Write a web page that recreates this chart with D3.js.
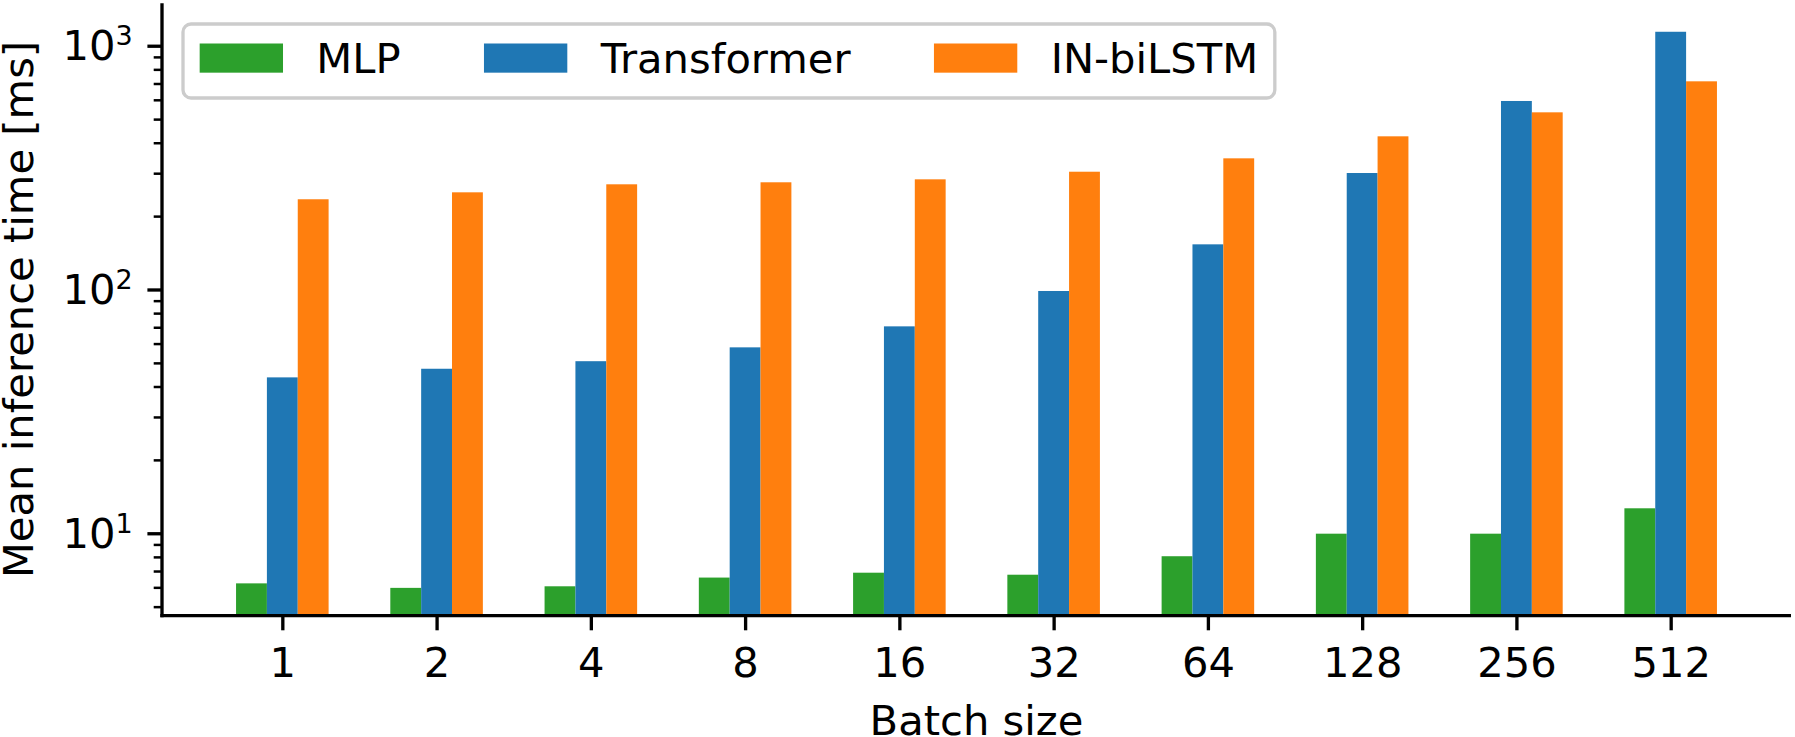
<!DOCTYPE html>
<html>
<head>
<meta charset="utf-8">
<script src="https://cdn.jsdelivr.net/npm/d3@7"></script>
<style>
  body { margin: 0; background: #fff; }
  svg { display: block; font-family: "DejaVu Sans", sans-serif; }
</style>
</head>
<body>
<script>
// batch sizes on the x axis
var batchSizes = ["1", "2", "4", "8", "16", "32", "64", "128", "256", "512"];

// mean inference time [ms]
var mlpTimes = [6.23, 5.97, 6.06, 6.58, 6.89, 6.76, 8.05, 9.96, 9.96, 12.66];
var transformerTimes = [43.6, 47.3, 50.8, 57.9, 70.6, 98.6, 153.2, 300.5, 593.4, 1141];
var lstmTimes = [234.5, 250.4, 270.1, 275.3, 283.1, 304.2, 345.2, 425.0, 533.1, 714.5];

var seriesNames = ["MLP", "Transformer", "IN-biLSTM"];
var seriesColors = ["#2ca02c", "#1f77b4", "#ff7f0e"];
var majorTicks = [10, 100, 1000];
var majorExp = ["1", "2", "3"];

window.onload = drawChart();

function drawChart(){

    var width = 1795,
        height = 737;

    //plot area
    var pLeft = 162, pRight = 1791, pTop = 3.3, pBottom = 615.7;
    var fs = 41.67; // 10pt at 300 dpi
    var lw = 3.33;

    var svg = d3.select("body")
        .append("svg")
        .attr("width", width)
        .attr("height", height);

    var x = d3.scaleLinear()
        .domain([-0.78, 9.78])
        .range([pLeft, pRight]);

    var y = d3.scaleLog()
        .domain([4.59, 1493])
        .range([pBottom, pTop]);

    var series = [mlpTimes, transformerTimes, lstmTimes];
    var offsets = [-0.2, 0, 0.2];

    //bars
    series.forEach(function(vals, s){
        svg.append("g")
            .selectAll("rect")
            .data(vals)
            .enter()
            .append("rect")
            .attr("x", function(d, i){ return x(i + offsets[s] - 0.1); })
            .attr("width", x(0.2) - x(0))
            .attr("y", function(d){ return y(d); })
            .attr("height", function(d){ return pBottom - y(d); })
            .attr("fill", seriesColors[s]);
    });

    //minor y ticks
    var minorTicks = [];
    [1, 10, 100].forEach(function(b){
        for (var k = 2; k <= 9; k++){
            var v = k * b;
            if (v >= y.domain()[0] && v <= y.domain()[1]) minorTicks.push(v);
        }
    });

    var yMinor = svg.append("g")
        .attr("transform", "translate(" + pLeft + ",0)")
        .call(d3.axisLeft(y).tickValues(minorTicks).tickSize(8.3).tickFormat(""));
    yMinor.select(".domain").remove();
    yMinor.selectAll("line").attr("stroke", "#000").attr("stroke-width", 2.5);

    var yMajor = svg.append("g")
        .attr("transform", "translate(" + pLeft + ",0)")
        .call(d3.axisLeft(y).tickValues(majorTicks).tickSize(14.6).tickFormat(""));
    yMajor.select(".domain").remove();
    yMajor.selectAll("line").attr("stroke", "#000").attr("stroke-width", lw);

    //y tick labels as 10^n
    majorTicks.forEach(function(v, i){
        var t = svg.append("text")
            .attr("x", pLeft - 14.6 - 14.6)
            .attr("y", y(v) + 14.5)
            .attr("text-anchor", "end")
            .attr("font-size", fs)
            .attr("fill", "#000");
        t.append("tspan").text("10");
        t.append("tspan")
            .attr("dy", -15)
            .attr("font-size", 27)
            .text(majorExp[i]);
    });

    //x ticks
    var xAxis = svg.append("g")
        .attr("transform", "translate(0," + pBottom + ")")
        .call(d3.axisBottom(x)
            .tickValues(d3.range(batchSizes.length))
            .tickSize(14.6)
            .tickPadding(14.6)
            .tickFormat(function(i){ return batchSizes[i]; }));
    xAxis.select(".domain").remove();
    xAxis.selectAll("line").attr("stroke", "#000").attr("stroke-width", lw);
    xAxis.selectAll("text")
        .attr("font-size", fs)
        .attr("font-family", "DejaVu Sans")
        .attr("fill", "#000")
        .attr("dy", null)
        .attr("y", 61);

    //spines
    svg.append("line")
        .attr("x1", pLeft).attr("x2", pLeft)
        .attr("y1", pTop).attr("y2", pBottom + lw / 2)
        .attr("stroke", "#000").attr("stroke-width", lw);
    svg.append("line")
        .attr("x1", pLeft - lw / 2).attr("x2", pRight)
        .attr("y1", pBottom).attr("y2", pBottom)
        .attr("stroke", "#000").attr("stroke-width", lw);

    //axis labels
    svg.append("text")
        .attr("x", (pLeft + pRight) / 2)
        .attr("y", 735)
        .attr("text-anchor", "middle")
        .attr("font-size", fs)
        .text("Batch size");

    svg.append("text")
        .attr("transform", "translate(33," + ((pTop + pBottom) / 2) + ") rotate(-90)")
        .attr("text-anchor", "middle")
        .attr("font-size", fs)
        .text("Mean inference time [ms]");

    //legend
    var legend = svg.append("g");
    var box = legend.append("rect")
        .attr("x", 183)
        .attr("y", 24)
        .attr("height", 74)
        .attr("rx", 8)
        .attr("fill", "#fff")
        .attr("fill-opacity", 0.8)
        .attr("stroke", "#cccccc")
        .attr("stroke-width", lw);

    var cx = 183 + 0.4 * fs;
    seriesNames.forEach(function(name, s){
        legend.append("rect")
            .attr("x", cx)
            .attr("y", 43.5)
            .attr("width", 2 * fs)
            .attr("height", 0.7 * fs)
            .attr("fill", seriesColors[s]);
        var t = legend.append("text")
            .attr("x", cx + 2.8 * fs)
            .attr("y", 72.7)
            .attr("font-size", fs)
            .text(name);
        var end = cx + 2.8 * fs + t.node().getComputedTextLength();
        if (s < seriesNames.length - 1) cx = end + 2 * fs;
        else box.attr("width", end + 0.4 * fs - 183);
    });
}
</script>
</body>
</html>
